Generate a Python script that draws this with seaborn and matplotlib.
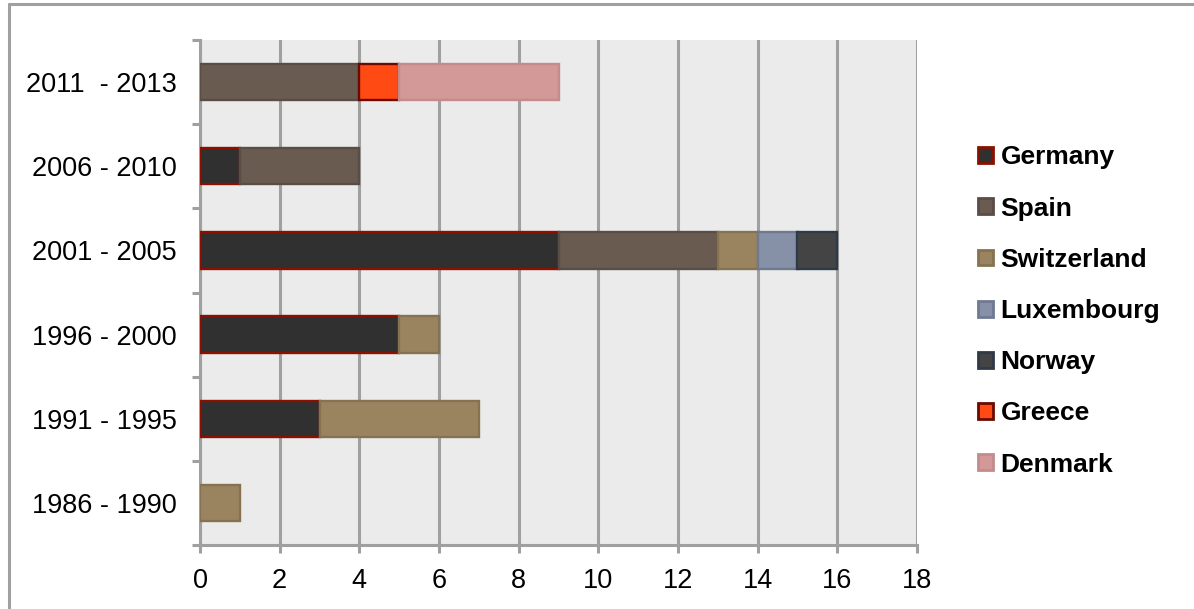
import matplotlib
matplotlib.use("Agg")
import matplotlib.pyplot as plt
from matplotlib.patches import Patch
from matplotlib.lines import Line2D
import numpy as np
import pandas as pd
import seaborn as sns

# Period labels, bottom to top
periods = ["1986 - 1990", "1991 - 1995", "1996 - 2000", "2001 - 2005", "2006 - 2010", "2011  - 2013"]

# Counts per country for each period
germany = [0, 3, 5, 9, 1, 0]
spain = [0, 0, 0, 4, 3, 4]
switzerland = [1, 4, 1, 1, 0, 0]
luxembourg = [0, 0, 0, 1, 0, 0]
norway = [0, 0, 0, 1, 0, 0]
greece = [0, 0, 0, 0, 0, 1]
denmark = [0, 0, 0, 0, 0, 4]

countries = ["Germany", "Spain", "Switzerland", "Luxembourg", "Norway", "Greece", "Denmark"]
fills = ["#303030", "#695B50", "#9A8460", "#8690A6", "#444444", "#FF4A14", "#D39898"]
edges = ["#8B1000", "#5A4D45", "#857250", "#6E7A90", "#2E3A48", "#6A0A00", "#C28C8C"]

df = pd.DataFrame(
    {"Germany": germany, "Spain": spain, "Switzerland": switzerland,
     "Luxembourg": luxembourg, "Norway": norway, "Greece": greece,
     "Denmark": denmark},
    index=periods,
)

sns.set_theme(style="white")
plt.rcParams["font.family"] = ["Liberation Sans", "DejaVu Sans"]
plt.rcParams["text.color"] = "black"

fig = plt.figure(figsize=(11.94, 6.09), dpi=100)
ax = fig.add_axes([200 / 1194, 1 - 545 / 609, 717 / 1194, 505 / 609])
ax.set_facecolor("#EBEBEB")

ypos = np.arange(len(periods))
left = np.zeros(len(periods))
for name, fc, ec in zip(countries, fills, edges):
    vals = df[name].to_numpy(dtype=float)
    mask = vals > 0
    ax.barh(ypos[mask], vals[mask], left=left[mask], height=0.43,
            color=fc, edgecolor=ec, linewidth=1.7, zorder=3)
    left += vals

grid_c = "#A0A0A0"
ax.set_xlim(0, 18)
ax.set_ylim(-0.5, len(periods) - 0.5)
ax.set_xticks(np.arange(0, 19, 2))
ax.xaxis.grid(True, color=grid_c, linewidth=2.2, zorder=1)
ax.yaxis.grid(False)

ax.set_yticks(ypos)
ax.set_yticklabels(periods)
ax.set_yticks(np.arange(-0.5, len(periods), 1.0), minor=True)
ax.tick_params(axis="y", which="major", length=0, pad=17, labelsize=19.5, labelcolor="black")
ax.tick_params(axis="y", which="minor", length=5.5, width=2.2, color=grid_c, left=True)
ax.tick_params(axis="x", which="major", length=5.5, width=2.2, color=grid_c,
               bottom=True, pad=11, labelsize=19.5, labelcolor="black")

for side in ["top", "right"]:
    ax.spines[side].set_visible(False)
for side in ["left", "bottom"]:
    ax.spines[side].set_color(grid_c)
    ax.spines[side].set_linewidth(2.2)

handles = [Patch(facecolor=fc, edgecolor=ec, linewidth=2.0, label=n)
           for n, fc, ec in zip(countries, fills, edges)]
leg = fig.legend(handles=handles, loc="center left",
                 bbox_to_anchor=(978 / 1194, 1 - 311 / 609),
                 frameon=False, prop={"weight": "bold", "size": 19},
                 handlelength=0.55, handleheight=0.55, handletextpad=0.3,
                 labelspacing=1.03, borderaxespad=0, borderpad=0)
for t in leg.get_texts():
    t.set_color("black")

# outer frame, open on the right and bottom
fig.add_artist(Line2D([9 / 1194, 9 / 1194], [0, 1 - 4 / 609],
                      transform=fig.transFigure, color=grid_c, linewidth=2.2))
fig.add_artist(Line2D([9 / 1194, 1], [1 - 4 / 609, 1 - 4 / 609],
                      transform=fig.transFigure, color=grid_c, linewidth=2.2))

fig.savefig("out.png", dpi=100, facecolor="white")
